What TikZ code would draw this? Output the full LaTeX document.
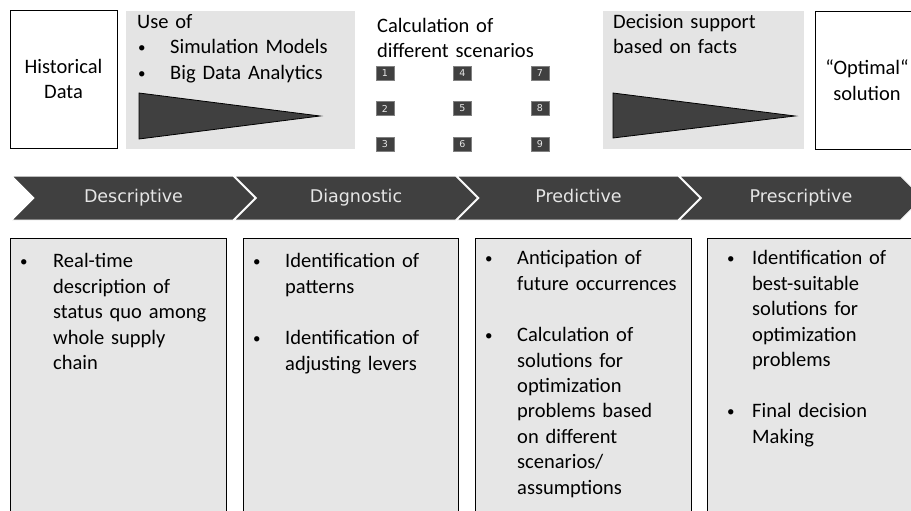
\documentclass[tikz,border=0pt]{standalone}
\usepackage{fontspec}
\setmainfont{Carlito}
\newfontfamily\stepfont{DejaVu Sans}
\usetikzlibrary{shapes.symbols}
\definecolor{darkfill}{HTML}{404040}
\definecolor{panelgray}{HTML}{E4E4E4}
\definecolor{boxgray}{HTML}{E6E6E6}
% bullet line with hanging indent
\newcommand{\bpoint}[2][33pt]{{\hangindent=#1\hangafter=1\noindent\strut\makebox[#1][l]{\hspace{1pt}\raisebox{1pt}{\fontsize{15}{15}\selectfont•}}#2\par}}
\newcommand{\bgap}{\vskip 26pt}

\begin{document}
\begin{tikzpicture}[x=1pt,y=-1pt,every node/.style={font=\fontsize{20.5}{25.4}\selectfont,inner sep=0},
whitebox/.style={draw,fill=white,line width=0.8pt,align=center},
panel/.style={fill=panelgray,anchor=north west,minimum width=#1,minimum height=138},
txt/.style={anchor=north west,text width=#1,align=left},
scen/.style={draw=gray,fill=darkfill,line width=0.6pt,minimum width=18,minimum height=14,text=boxgray,font=\stepfont\fontsize{9.5}{9.5}\selectfont},
chev/.style={shape=signal,signal to=east,signal from=west,fill=darkfill,draw=white,line width=1pt,minimum width=243,minimum height=44,text height=12.5,text depth=3.5,text=boxgray,font=\stepfont\fontsize{17.5}{20}\selectfont},
lowbox/.style={draw,fill=boxgray,line width=0.8pt,anchor=north west,minimum width=#1,minimum height=300}]
\clip (0,0) rectangle (911,511);
\fill[white] (0,0) rectangle (911,511);

% top row
\node[whitebox,minimum width=107,minimum height=138] (hist) at (63.5,79) {Historical\\Data};
\node[panel=229] (use) at (126,11) {};
\node[txt=220] (usetxt) at (137,10.5) {\strut Use of\par
\bpoint{Simulation Models}
\bpoint{Big Data Analytics}};
\draw[fill=darkfill,line width=0.8pt] (139,93) -- (320,116) -- (139,139) -- cycle;

\node[txt=200] (calc) at (377,14.5) {\strut Calculation of\\different scenarios};
\foreach \c in {0,1,2}
  \foreach \r in {0,1,2}{
    \pgfmathtruncatemacro{\n}{3*\c+\r+1}
    \node[scen] (s\n) at (385+77.5*\c,73+35.5*\r) {\n};
  }

\node[panel=201] (dec) at (603,11) {};
\node[txt=190] (dectxt) at (613,10.5) {\strut Decision support\\based on facts};
\draw[fill=darkfill,line width=0.8pt] (613,93) -- (795,116) -- (613,138) -- cycle;
\node[whitebox,minimum width=104,minimum height=138] (opt) at (867,80) {“Optimal“\\solution};

% phases
\node[chev] (desc) at (133.5,198) {Descriptive};
\node[chev] (diag) at (356,198) {Diagnostic};
\node[chev] (pred) at (578.5,198) {Predictive};
\node[chev] (presc) at (801,198) {Prescriptive};

% details
\node[lowbox=216] (b1) at (10,238) {};
\node[txt=200] at (19,250) {\bpoint[34pt]{Real-time\newline description of\newline status quo among\newline whole supply\newline chain}};
\node[lowbox=215] (b2) at (243,238) {};
\node[txt=200] at (252,250) {\bpoint{Identification of\newline patterns}\bgap
\bpoint{Identification of\newline adjusting levers}};
\node[lowbox=216] (b3) at (475,238) {};
\node[txt=200] at (484,247) {\bpoint{Anticipation of\newline future occurrences}\bgap
\bpoint{Calculation of\newline solutions for\newline optimization\newline problems based\newline on different\newline scenarios/\newline assumptions}};
\node[lowbox=230] (b4) at (707,238) {};
\node[txt=200] at (726,247) {\bpoint[26pt]{Identification of\newline best-suitable\newline solutions for\newline optimization\newline problems}\bgap
\bpoint[26pt]{Final decision\newline Making}};
\end{tikzpicture}
\end{document}
